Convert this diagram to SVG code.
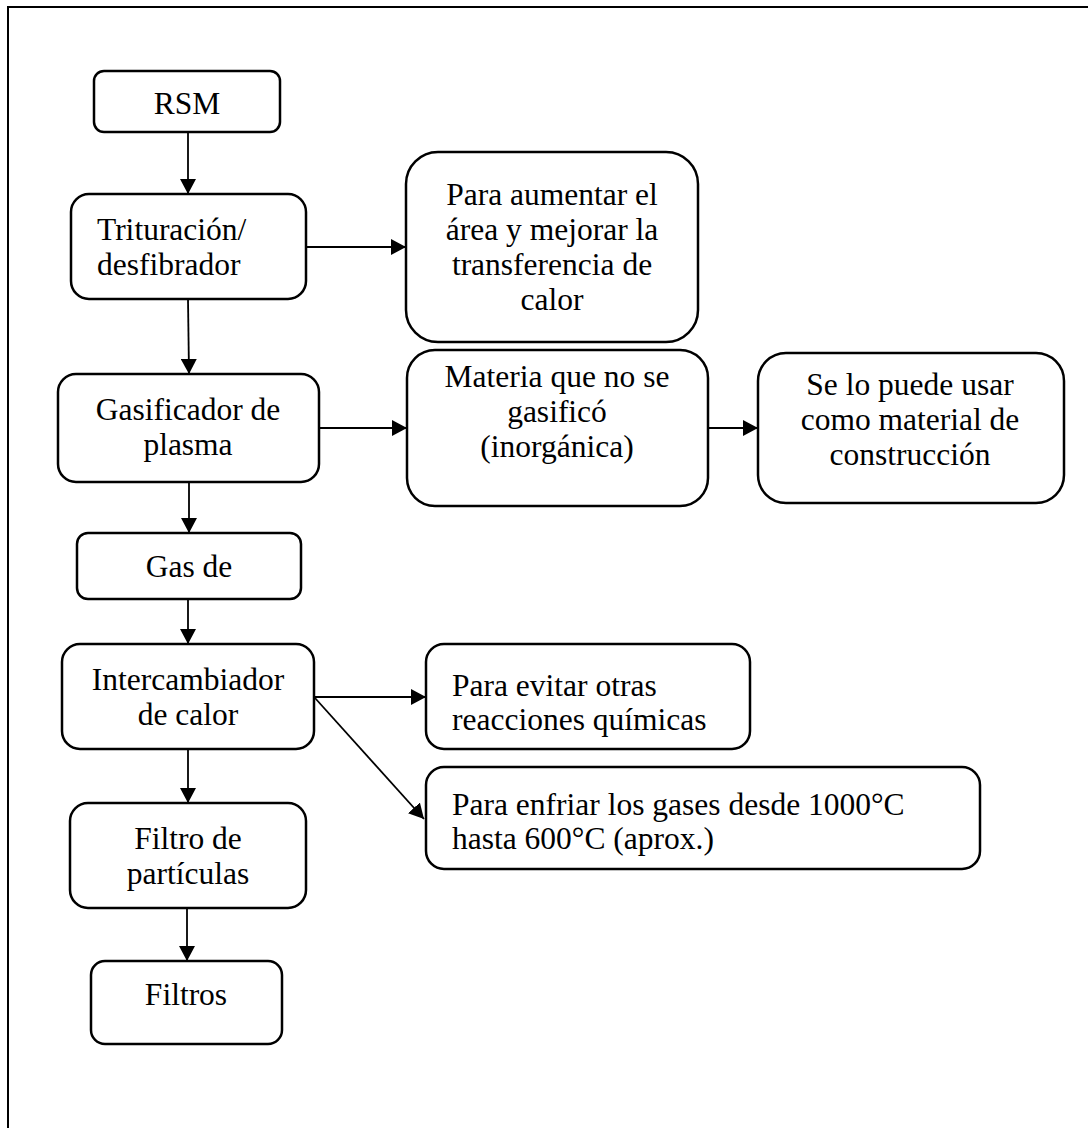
<svg xmlns="http://www.w3.org/2000/svg" width="1088" height="1128" viewBox="0 0 1088 1128">
<defs>
<marker id="ah" markerWidth="16" markerHeight="16" refX="15" refY="8" orient="auto" markerUnits="userSpaceOnUse">
<path d="M0,0 L15,8 L0,16 Z" fill="#000"/>
</marker>
<style>
.box{fill:#fff;stroke:#000;stroke-width:2.5}
.t{font-family:"Liberation Serif","Times New Roman",serif;font-size:31.5px;fill:#000}
.c{text-anchor:middle}
.ln{stroke:#000;stroke-width:1.8;fill:none;marker-end:url(#ah)}
</style>
</defs>
<rect x="0" y="0" width="1088" height="1128" fill="#fff"/>
<rect x="8" y="7" width="1200" height="1300" fill="none" stroke="#000" stroke-width="2"/>
<g id="connectors">
<line class="ln" x1="188" y1="132" x2="188" y2="194"/>
<line class="ln" x1="306" y1="247" x2="406" y2="247"/>
<line class="ln" x1="188" y1="299" x2="189" y2="374"/>
<line class="ln" x1="319" y1="428" x2="407" y2="428"/>
<line class="ln" x1="708" y1="428" x2="758" y2="428"/>
<line class="ln" x1="189" y1="482" x2="189" y2="533"/>
<line class="ln" x1="188" y1="599" x2="188" y2="644"/>
<line class="ln" x1="314" y1="697" x2="426" y2="697"/>
<line class="ln" x1="315" y1="698" x2="424" y2="819"/>
<line class="ln" x1="188" y1="749" x2="188" y2="803"/>
<line class="ln" x1="187" y1="908" x2="187" y2="961"/>
</g>
<g id="rsm">
<rect class="box" x="94" y="71" width="186" height="61" rx="10"/>
<text class="t c" x="187" y="114">RSM</text>
</g>
<g id="trituracion">
<rect class="box" x="71" y="194" width="235" height="105" rx="18"/>
<text class="t" x="97" y="240">Trituración/</text>
<text class="t" x="97" y="275">desfibrador</text>
</g>
<g id="aumentar">
<rect class="box" x="406" y="152" width="292" height="190" rx="32"/>
<text class="t c" x="552" y="205">Para aumentar el</text>
<text class="t c" x="552" y="240">área y mejorar la</text>
<text class="t c" x="552" y="275">transferencia de</text>
<text class="t c" x="552" y="310">calor</text>
</g>
<g id="gasificador">
<rect class="box" x="58" y="374" width="261" height="108" rx="18"/>
<text class="t c" x="188" y="420">Gasificador de</text>
<text class="t c" x="188" y="455">plasma</text>
</g>
<g id="materia">
<rect class="box" x="407" y="350" width="301" height="156" rx="28"/>
<text class="t c" x="557" y="387">Materia que no se</text>
<text class="t c" x="557" y="422">gasificó</text>
<text class="t c" x="557" y="457">(inorgánica)</text>
</g>
<g id="construccion">
<rect class="box" x="758" y="353" width="306" height="150" rx="28"/>
<text class="t c" x="910" y="395">Se lo puede usar</text>
<text class="t c" x="910" y="430">como material de</text>
<text class="t c" x="910" y="465">construcción</text>
</g>
<g id="gas">
<rect class="box" x="77" y="533" width="224" height="66" rx="11"/>
<text class="t c" x="189" y="577">Gas de</text>
</g>
<g id="intercambiador">
<rect class="box" x="62" y="644" width="252" height="105" rx="18"/>
<text class="t c" x="188" y="690">Intercambiador</text>
<text class="t c" x="188" y="725">de calor</text>
</g>
<g id="evitar">
<rect class="box" x="426" y="644" width="324" height="105" rx="18"/>
<text class="t" x="452" y="696">Para evitar otras</text>
<text class="t" x="452" y="730">reacciones químicas</text>
</g>
<g id="enfriar">
<rect class="box" x="426" y="767" width="554" height="102" rx="18"/>
<text class="t" x="452" y="815">Para enfriar los gases desde 1000°C</text>
<text class="t" x="452" y="849">hasta 600°C (aprox.)</text>
</g>
<g id="filtro">
<rect class="box" x="70" y="803" width="236" height="105" rx="18"/>
<text class="t c" x="188" y="849">Filtro de</text>
<text class="t c" x="188" y="884">partículas</text>
</g>
<g id="filtros">
<rect class="box" x="91" y="961" width="191" height="83" rx="14"/>
<text class="t c" x="186" y="1005">Filtros</text>
</g>
</svg>
